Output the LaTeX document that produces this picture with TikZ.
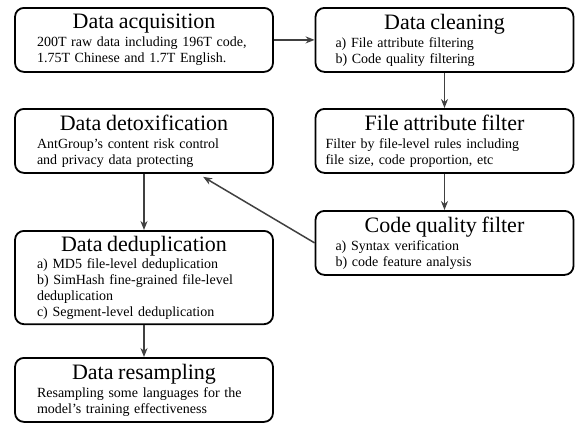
\documentclass[tikz,border=0pt]{standalone}
\usepackage{fontspec}
\setmainfont{Liberation Serif}
\usetikzlibrary{arrows.meta}
\tikzset{>={Stealth[length=9pt,width=7pt]}}
\newcommand{\titlefont}{\fontsize{22}{24}\selectfont}
\newcommand{\bodyfont}{\fontsize{14}{16}\selectfont\spaceskip=0.55em plus 0.1em minus 0.05em\relax}
\tikzset{
  stage/.style={draw, line width=1.8pt, rounded corners=9pt, anchor=north,
    text width=246pt, inner xsep=6pt, inner ysep=5pt, minimum height=64pt,
    align=center, font=\bodyfont},
  flow/.style={->, line width=1.5pt, draw=black!75, fill=black!75}
}

\begin{document}
\begin{tikzpicture}[x=1pt, y=-1pt]
      \useasboundingbox (0, 0) rectangle (576, 423);
      % left column
      \node[stage] (acq) at (144, 7) {{\titlefont Data acquisition}\\[2pt]
        \hspace*{14pt}\parbox[t]{228pt}{200T raw data including 196T code,\\1.75T Chinese and 1.7T English.}};
      \node[stage] (detox) at (144, 108) {{\titlefont Data detoxification}\\[2pt]
        \hspace*{14pt}\parbox[t]{228pt}{AntGroup's content risk control\\and privacy data protecting}};
      \node[stage] (dedup) at (144, 230) {{\titlefont Data deduplication}\\[1pt]
        \hspace*{14pt}\parbox[t]{228pt}{a) MD5 file-level deduplication\\b) SimHash fine-grained file-level\\deduplication\\c) Segment-level deduplication}};
      \node[stage] (resamp) at (144, 357) {{\titlefont Data resampling}\\[2pt]
        \hspace*{14pt}\parbox[t]{228pt}{Resampling some languages for the\\model's training effectiveness}};
      % right column
      \node[stage] (clean) at (444.5, 7) {{\titlefont Data cleaning}\\[2pt]
        \hspace*{10pt}\parbox[t]{228pt}{a) File attribute filtering\\b) Code quality filtering}};
      \node[stage] (attr) at (444.5, 108) {{\titlefont File attribute filter}\\[2pt]
        \hspace*{-2pt}\parbox[t]{236pt}{Filter by file-level rules including\\file size, code proportion, etc}};
      \node[stage] (qual) at (444.5, 210) {{\titlefont Code quality filter}\\[2pt]
        \hspace*{10pt}\parbox[t]{228pt}{a) Syntax verification\\b) code feature analysis}};
      % arrows
      \draw[flow] (acq.east) -- (clean.west);
      \draw[flow] (clean) -- (attr);
      \draw[flow] (attr) -- (qual);
      \draw[flow, shorten >=6pt] (qual.west) -- ([xshift=54pt]detox.south);
      \draw[flow] (detox) -- (dedup);
      \draw[flow] (dedup) -- (resamp);
    \end{tikzpicture}
\end{document}
